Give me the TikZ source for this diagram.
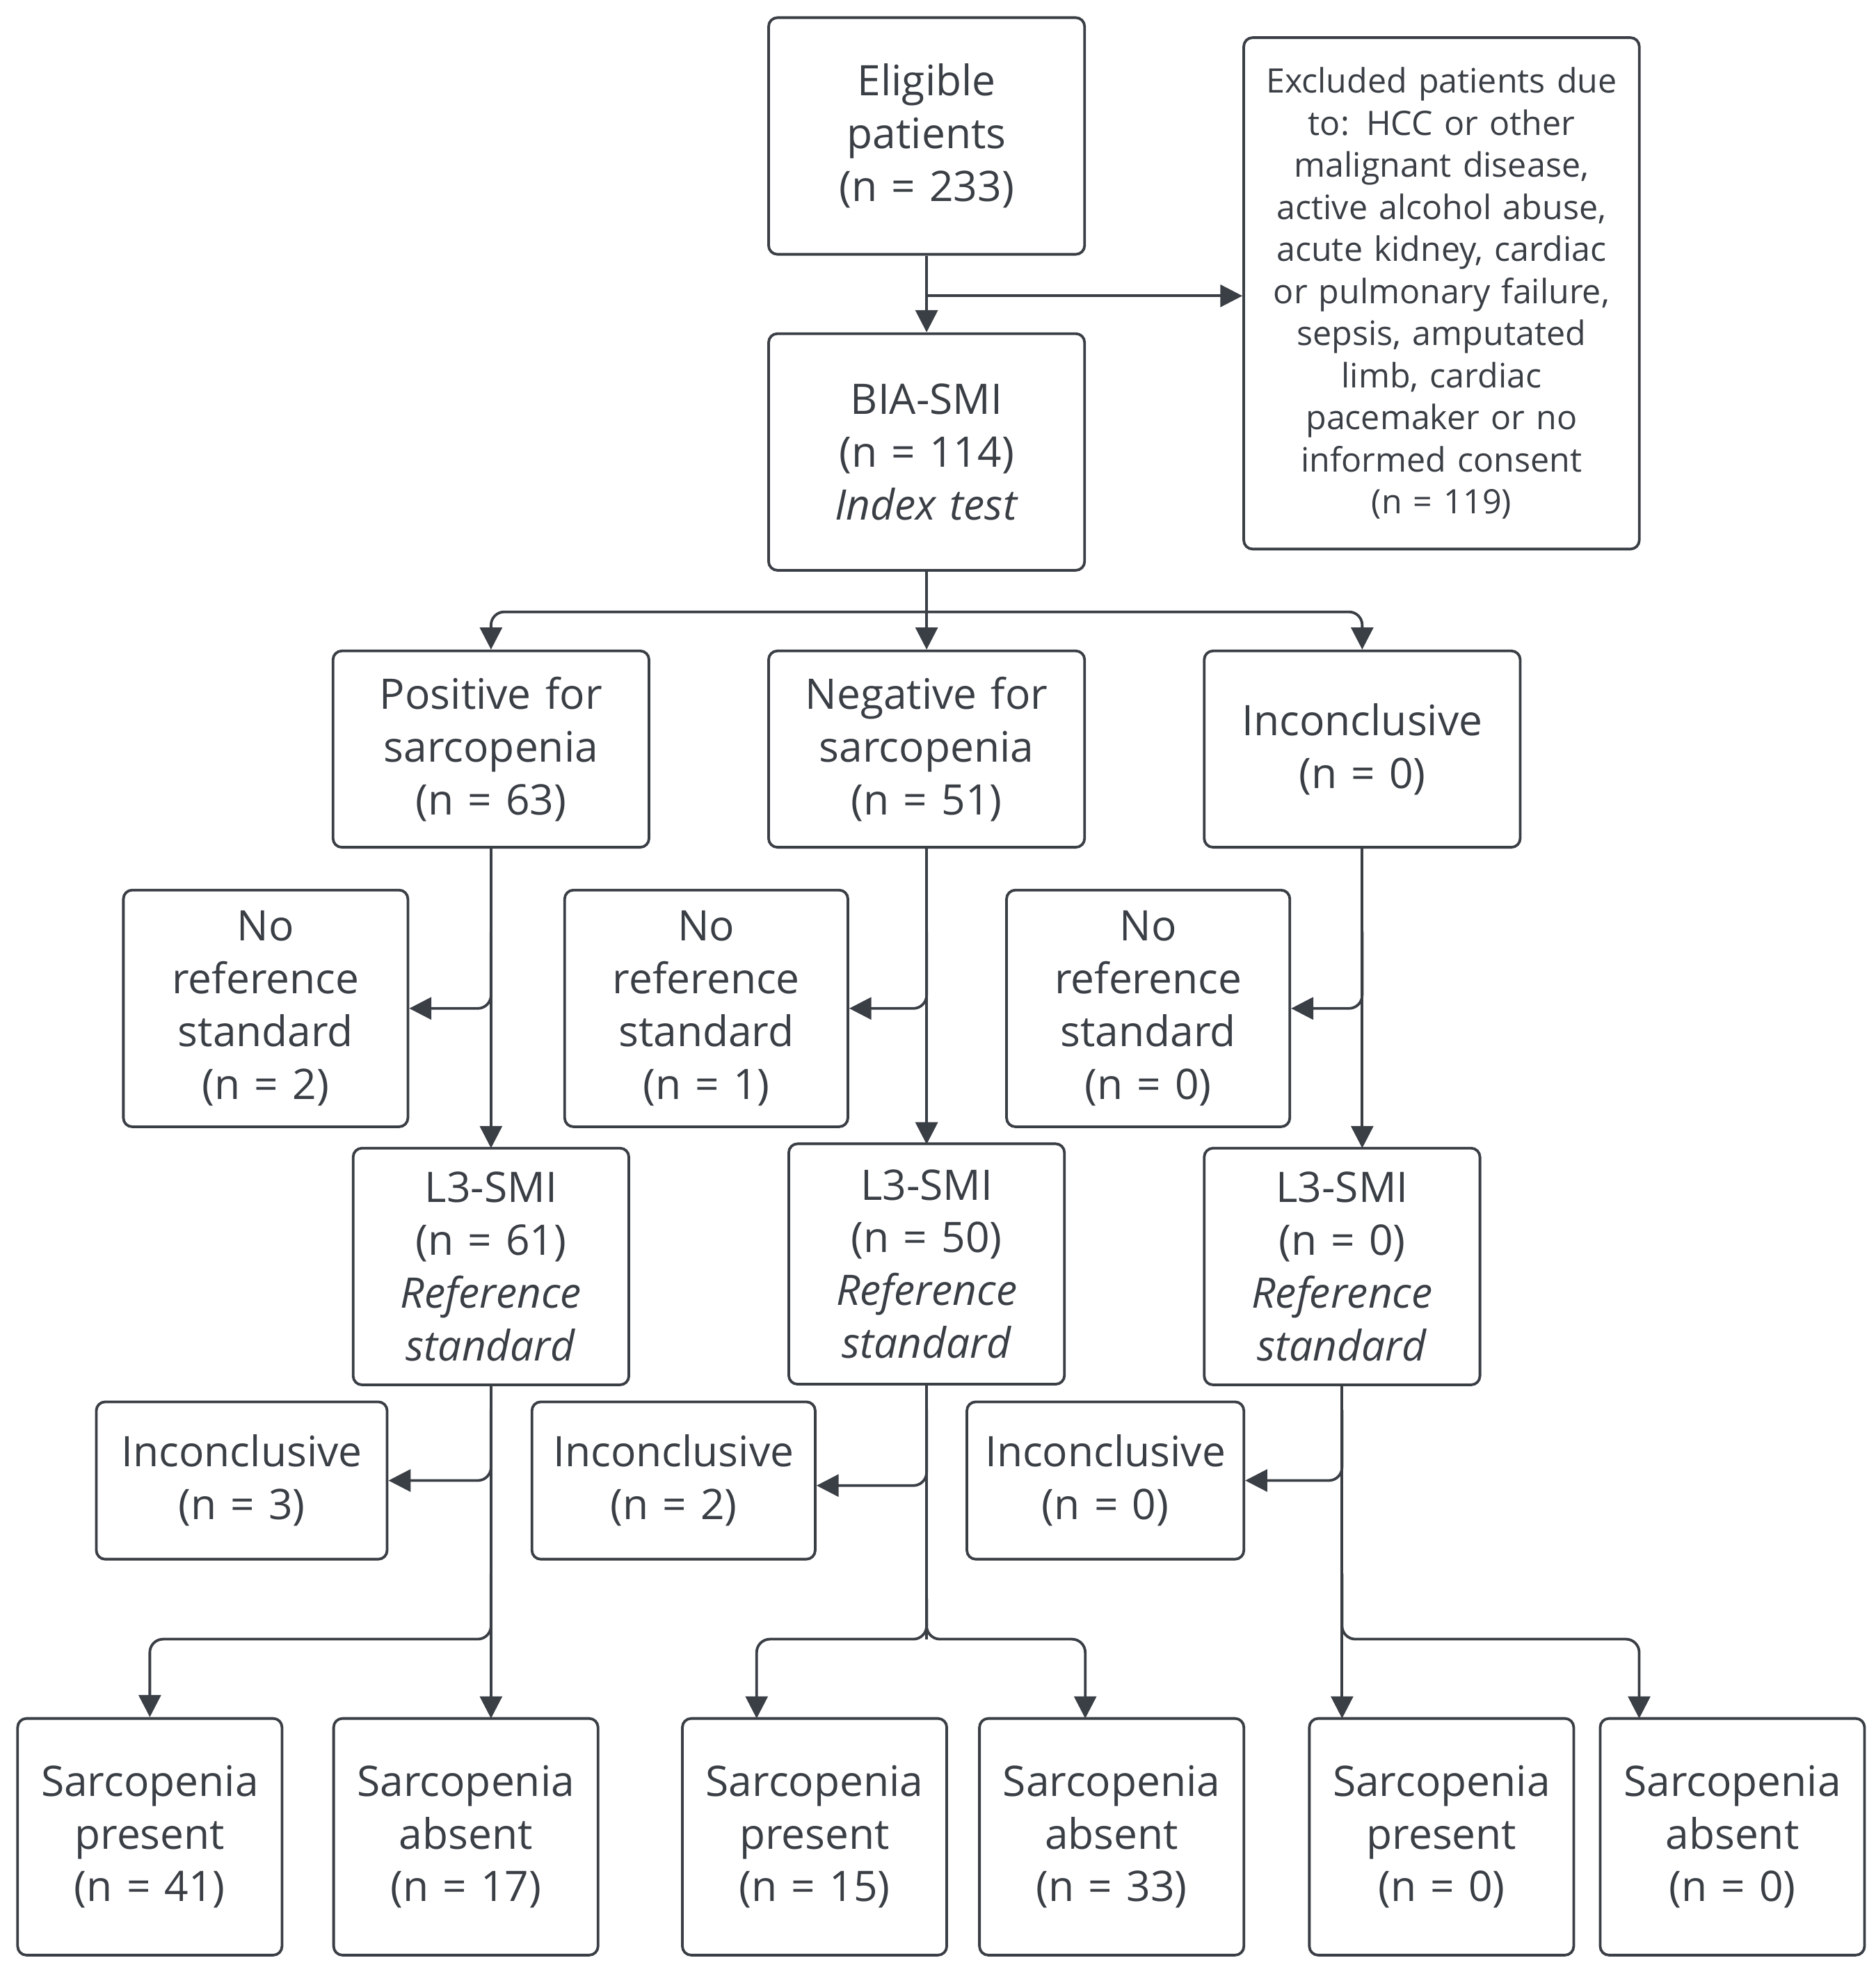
\documentclass[tikz,border=0pt]{standalone}
\usepackage{fontspec}
\setmainfont{Open Sans}
\usetikzlibrary{arrows.meta}
\definecolor{ln}{HTML}{3A3E45}
\begin{document}
\begin{tikzpicture}[x=0.01cm,y=-0.01cm,
  box/.style={draw=ln,line width=0.6pt,rounded corners=2pt,align=center,inner sep=0pt,
    text=ln,font=\fontsize{9.5}{11.9}\selectfont},
  ar/.style={draw=ln,line width=0.6pt,rounded corners=3pt,-{Triangle[length=5pt,width=5pt]}},
  ln/.style={draw=ln,line width=0.6pt,rounded corners=3pt}]
\useasboundingbox (0,0) rectangle (1490,1568);
\newcommand\bx[6]{\node[box,minimum width=#4*0.01cm,minimum height=#5*0.01cm,text width=#4*0.01cm-4pt] (#1) at (#2,#3) {#6};}
\bx{elig}{736}{108}{251}{188}{Eligible\\patients\\(n = 233)}
\node[box,minimum width=3.14cm,minimum height=4.06cm,text width=3.1cm,font=\fontsize{7.6}{9.5}\selectfont] (excl) at (1145,233) {Excluded patients due\\to: HCC or other\\malignant disease,\\active alcohol abuse,\\acute kidney, cardiac\\or pulmonary failure,\\sepsis, amputated\\limb, cardiac\\pacemaker or no\\informed consent\\(n = 119)};
\bx{bia}{736}{359}{251}{188}{BIA-SMI\\(n = 114)\\\textit{Index test}}
\bx{pos}{390}{595}{251}{156}{Positive for\\sarcopenia\\(n = 63)}
\bx{neg}{736}{595}{251}{156}{Negative for\\sarcopenia\\(n = 51)}
\bx{inc}{1082}{595}{251}{156}{Inconclusive\\(n = 0)}
\bx{nr1}{211}{801}{226}{188}{No\\reference\\standard\\(n = 2)}
\bx{nr2}{561}{801}{225}{188}{No\\reference\\standard\\(n = 1)}
\bx{nr3}{912}{801}{225}{188}{No\\reference\\standard\\(n = 0)}
\bx{l1}{390}{1006}{219}{188}{L3-SMI\\(n = 61)\\\textit{Reference}\\\textit{standard}}
\bx{l2}{736}{1004}{219}{191}{L3-SMI\\(n = 50)\\\textit{Reference}\\\textit{standard}}
\bx{l3}{1066}{1006}{219}{188}{L3-SMI\\(n = 0)\\\textit{Reference}\\\textit{standard}}
\bx{i1}{192}{1176}{231}{125}{Inconclusive\\(n = 3)}
\bx{i2}{535}{1176}{225}{125}{Inconclusive\\(n = 2)}
\bx{i3}{878}{1176}{220}{125}{Inconclusive\\(n = 0)}
\bx{sp1}{119}{1459}{210}{188}{Sarcopenia\\present\\(n = 41)}
\bx{sa1}{370}{1459}{210}{188}{Sarcopenia\\absent\\(n = 17)}
\bx{sp2}{647}{1459}{210}{188}{Sarcopenia\\present\\(n = 15)}
\bx{sa2}{883}{1459}{210}{188}{Sarcopenia\\absent\\(n = 33)}
\bx{sp3}{1145}{1459}{210}{188}{Sarcopenia\\present\\(n = 0)}
\bx{sa3}{1376}{1459}{210}{188}{Sarcopenia\\absent\\(n = 0)}
% connectors
\draw[ar] (elig.south) -- (bia.north);
\draw[ar] (736,235) -- (excl.west |- 0,235);
\draw[ln] (bia.south) -- (736,486);
\draw[ar] (736,486) -- (390,486) -- (pos.north);
\draw[ar] (736,486) -- (neg.north);
\draw[ar] (736,486) -- (1082,486) -- (inc.north);
\draw[ar] (pos.south) -- (390,912);
\draw[ar] (390,740) -- (390,801) -- (nr1.east |- 0,801);
\draw[ar] (neg.south) -- (736,909);
\draw[ar] (736,740) -- (736,801) -- (nr2.east |- 0,801);
\draw[ar] (inc.south) -- (1082,912);
\draw[ar] (1082,740) -- (1082,801) -- (nr3.east |- 0,801);
\draw[ar] (l1.south) -- (390,1365);
\draw[ar] (390,1120) -- (390,1176) -- (i1.east |- 0,1176);
\draw[ar] (390,1250) -- (390,1302) -- (119,1302) -- (sp1.north);
\draw[ln] (l2.south) -- (736,1302);
\draw[ar] (736,1120) -- (736,1180) -- (i2.east |- 0,1180);
\draw[ar] (736,1270) -- (736,1302) -- (601,1302) -- (601,1365);
\draw[ar] (736,1270) -- (736,1302) -- (862,1302) -- (862,1365);
\draw[ar] (l3.south) -- (1066,1365);
\draw[ar] (1066,1120) -- (1066,1176) -- (i3.east |- 0,1176);
\draw[ar] (1066,1250) -- (1066,1302) -- (1302,1302) -- (1302,1365);
\end{tikzpicture}
\end{document}
